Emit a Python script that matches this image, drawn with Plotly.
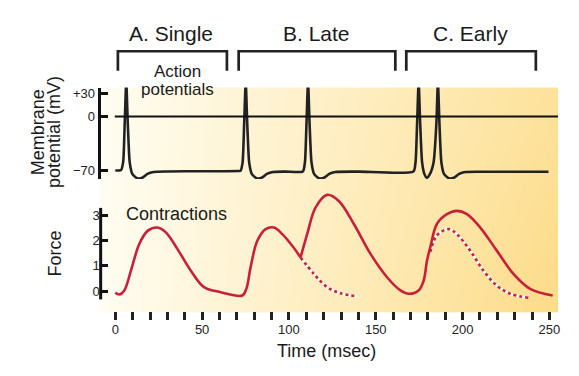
import base64, zlib, struct
import plotly.graph_objects as go

W, H = 579, 376

# ---------------- data ----------------
# Membrane potential trace (time in ms, potential in mV)
ap_t = [0, 2.0, 3.3, 4.5, 5.4, 6.3, 7.2, 8.3, 9.8, 12.5, 15.5, 18.5, 22, 30, 50, 71.5,
        72.1, 73.3, 74.2, 75.1, 76.0, 77.1, 78.6, 81.3, 84.3, 87.3, 90.8, 98, 108.0,
        109.2, 110.1, 111.0, 111.9, 113.0, 114.5, 117.2, 120.2, 123.2, 126.7, 140, 171.7,
        172.9, 173.8, 174.7, 175.6, 176.7, 178.0, 179.5, 181.0, 183.3, 184.9, 185.8,
        186.7, 187.8, 189.3, 192.0, 195.0, 198.0, 201.5, 215, 249.5]
ap_v = [-70.5, -70.5, -70, -60, -10, 45, -10, -60, -75, -80.5, -80, -75, -72.5, -71.8, -71.5, -71.2,
        -71, -60, -10, 45, -10, -60, -75, -80.5, -80, -75, -72.5, -72, -71.8,
        -60, -10, 45, -10, -60, -75, -80.5, -80, -75, -72.5, -72, -71.8,
        -60, -10, 45, -10, -60, -75, -80, -76, -60, -10, 45,
        -10, -60, -75, -80.5, -80, -75, -72.5, -72.2, -72.2]

# Force, solid curve (split at the summation kink)
force1_t = [0, 2.3, 5.2, 9, 13.8, 18.6, 24.3, 29.1, 35.8, 43.5, 51.1, 60.7, 73.1,
            75.5, 77.9, 81.8, 86.6, 91.4, 96.2, 101.9, 106.7]
force1_v = [-0.06, -0.13, 0.03, 0.81, 1.86, 2.38, 2.51, 2.32, 1.66, 0.81, 0.16, -0.04, -0.17,
            0.1, 0.94, 1.99, 2.45, 2.51, 2.25, 1.79, 1.33]
force2_t = [106.7, 110.5, 115.3, 122, 128.7, 137.4, 147, 156.5, 164.2, 169, 174.7, 177.6,
            179.5, 181.4, 185.2, 191, 196.7, 202.5, 210.2, 219.7, 229.3, 238.9, 251.9]
force2_v = [1.33, 2.25, 3.3, 3.8, 3.56, 2.65, 1.47, 0.55, 0.03, -0.1, 0.03, 0.42,
            1.2, 1.73, 2.65, 3.04, 3.17, 3.04, 2.51, 1.6, 0.68, 0.09, -0.17]

# Force, dotted curves (single twitch without summation)
dotB_t = [106.7, 114.4, 122, 129.7, 139.3]
dotB_v = [1.33, 0.68, 0.16, -0.08, -0.21]
dotC_t = [181.4, 185.2, 192, 196.7, 204.4, 212, 219.7, 227.4, 237.9]
dotC_v = [1.55, 2.2, 2.45, 2.25, 1.6, 0.81, 0.22, -0.1, -0.26]

x_tickvals = list(range(0, 260, 10))
x_labels = {0: "0", 50: "50", 100: "100", 150: "150", 200: "200", 250: "250"}
mv_tickvals = [30, 0, -70]
mv_ticktext = ["+30", "0", "\u221270"]
force_tickvals = [0, 1, 2, 3]
force_ticktext = ["0", "1", "2", "3"]

panel_titles = ["A. Single", "B. Late", "C. Early"]

# ---------------- helpers ----------------
def fx(x):
    return x / W

def fy(y):
    return 1 - y / H

def make_png(w, h, fn):
    rows = []
    for j in range(h):
        row = bytearray([0])
        for i in range(w):
            row += bytes(fn(i / (w - 1), j / (h - 1)))
        rows.append(bytes(row))
    raw = b"".join(rows)

    def chunk(tag, data):
        return (struct.pack(">I", len(data)) + tag + data +
                struct.pack(">I", zlib.crc32(tag + data) & 0xffffffff))
    png = (b"\x89PNG\r\n\x1a\n" +
           chunk(b"IHDR", struct.pack(">IIBBBBB", w, h, 8, 2, 0, 0, 0)) +
           chunk(b"IDAT", zlib.compress(raw, 9)) + chunk(b"IEND", b""))
    return "data:image/png;base64," + base64.b64encode(png).decode()

left_c = (255, 253, 242)
right_c = (253, 226, 156)

def grad(u, v):
    f = u * (1 + 0.22 * v)
    return tuple(max(0, min(255, int(round(left_c[k] + f * (right_c[k] - left_c[k]))))) for k in range(3))

bg_src = make_png(240, 60, grad)

RED = "#C8203A"
INK = "#1a1a1a"
FONT = "Liberation Sans, Arial, sans-serif"

fig = go.Figure()

fig.add_trace(go.Scatter(x=ap_t, y=ap_v, mode="lines", xaxis="x", yaxis="y",
                         line=dict(color="#222222", width=2.6, shape="spline", smoothing=0.6),
                         hoverinfo="skip"))

for tt, vv in ((dotB_t, dotB_v), (dotC_t, dotC_v)):
    fig.add_trace(go.Scatter(x=tt, y=vv, mode="lines", xaxis="x", yaxis="y2",
                             line=dict(color="white", width=2.6, shape="spline"),
                             hoverinfo="skip"))
    fig.add_trace(go.Scatter(x=tt, y=vv, mode="lines", xaxis="x", yaxis="y2",
                             line=dict(color=RED, width=2.6, shape="spline", dash="dot"),
                             hoverinfo="skip"))

for tt, vv in ((force1_t, force1_v), (force2_t, force2_v)):
    fig.add_trace(go.Scatter(x=tt, y=vv, mode="lines", xaxis="x", yaxis="y2",
                             line=dict(color=RED, width=2.6, shape="spline"),
                             hoverinfo="skip"))

shapes = []
# zero line of membrane potential
shapes.append(dict(type="line", xref="x", yref="y", x0=-0.3, x1=255, y0=0, y1=0,
                   line=dict(color="#111111", width=2)))
# force axis line (shorter than the plotting domain, curves may rise above it)
shapes.append(dict(type="line", xref="paper", yref="paper", x0=fx(101), x1=fx(101),
                   y0=fy(299), y1=fy(207), line=dict(color="#111111", width=3)))
# brackets
for x0, x1 in ((118.3, 227.7), (239.5, 396.7), (407.7, 537.7)):
    path = "M {a},{b} L {a},{c} L {d},{c} L {d},{b}".format(
        a=fx(x0), b=fy(69), c=fy(49.5), d=fx(x1))
    shapes.append(dict(type="path", xref="paper", yref="paper", path=path,
                       line=dict(color="#222222", width=2.7)))

annotations = []
def ann(text, x, y, size, angle=0):
    annotations.append(dict(text=text, x=fx(x), y=fy(y), xref="paper", yref="paper",
                            xanchor="center", yanchor="middle", showarrow=False,
                            textangle=angle, font=dict(family=FONT, size=size, color=INK)))

for t, xc in zip(panel_titles, (172, 318, 472)):
    ann(t, xc, 32, 21)
ann("Action", 178, 70, 17)
ann("potentials", 178, 88, 17)
ann("Contractions", 177.5, 213, 18)
ann("Time (msec)", 327.5, 351, 18)
ann("Membrane", 38, 131, 18, -90)
ann("potential (mV)", 54, 131, 18, -90)
ann("Force", 55, 253, 18, -90)

tickfont = dict(family=FONT, size=13, color="#222222")

fig.update_layout(
    width=W, height=H, margin=dict(l=0, r=0, t=0, b=0),
    paper_bgcolor="white", plot_bgcolor="rgba(0,0,0,0)", showlegend=False,
    images=[dict(source=bg_src, xref="paper", yref="paper", x=fx(100), y=fy(86),
                 sizex=fx(460), sizey=226 / H, sizing="stretch", layer="below",
                 xanchor="left", yanchor="top")],
    xaxis=dict(domain=[fx(101), fx(560)], range=[-8.44, 255.0], anchor="free",
               position=fy(320), showline=False, showgrid=False, zeroline=False,
               ticks="inside", ticklen=8, tickwidth=2.5, tickcolor="#222222",
               tickvals=x_tickvals, ticktext=[x_labels.get(v, "") for v in x_tickvals],
               tickfont=tickfont, fixedrange=True),
    yaxis=dict(domain=[fy(178), fy(86)], range=[-81.7, 37.7], anchor="x",
               showline=True, linewidth=3, linecolor="#111111", showgrid=False, zeroline=False,
               ticks="inside", ticklen=7, tickwidth=3, tickcolor="#111111",
               tickvals=mv_tickvals, ticktext=mv_ticktext, tickfont=tickfont, fixedrange=True),
    yaxis2=dict(domain=[fy(299), fy(186)], range=[-0.326, 4.111], anchor="x",
                showline=False, showgrid=False, zeroline=False,
                ticks="inside", ticklen=7, tickwidth=3, tickcolor="#111111",
                tickvals=force_tickvals, ticktext=force_ticktext, tickfont=tickfont,
                fixedrange=True),
    shapes=shapes, annotations=annotations,
)

fig.write_html("out.html", config={"displayModeBar": False})

# remove the default page margin so the figure sits at the window's top-left corner
with open("out.html", "r", encoding="utf-8") as fh:
    html = fh.read()
html = html.replace("<head>", "<head><style>html,body{margin:0;padding:0;overflow:hidden;}</style>", 1)
with open("out.html", "w", encoding="utf-8") as fh:
    fh.write(html)
